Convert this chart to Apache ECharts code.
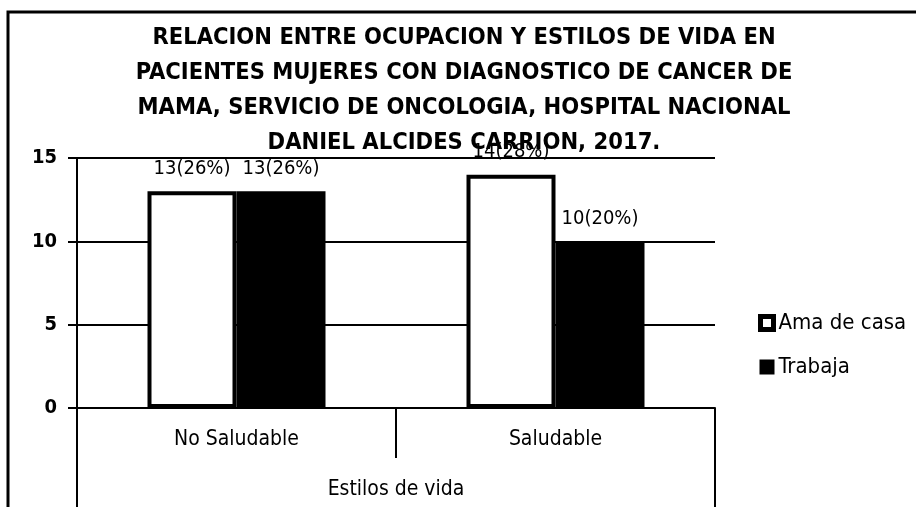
<!DOCTYPE html>
<html>
<head>
<meta charset="utf-8">
<script src="https://cdn.jsdelivr.net/npm/echarts@6/dist/echarts.min.js"></script>
<style>
html, body { margin: 0; padding: 0; background: #fff; }
#chart { width: 916px; height: 507px; }
</style>
</head>
<body>
<div id="chart"></div>
<script>
var FONT = '"Liberation Sans Narrow", "DejaVu Sans Condensed", "Liberation Sans", sans-serif';

// datos
var categorias = ['No Saludable', 'Saludable'];
var amaDeCasa = [13, 14];
var amaDeCasaPct = [26, 28];
var trabaja = [13, 10];
var trabajaPct = [26, 20];
var yTicks = [0, 5, 10, 15];

var chart = echarts.init(document.getElementById('chart'));

function etiqueta(pcts) {
    return function (p) {
        return p.value + '(' + pcts[p.dataIndex] + '%)';
    };
}

chart.setOption({
    backgroundColor: '#fff',
    animation: false,
    title: {
        text: 'RELACION ENTRE OCUPACION Y ESTILOS DE VIDA EN\nPACIENTES MUJERES CON DIAGNOSTICO DE CANCER DE\nMAMA, SERVICIO DE ONCOLOGIA, HOSPITAL NACIONAL\nDANIEL ALCIDES CARRION, 2017.',
        left: 459,
        top: 15,
        textAlign: 'center',
        textStyle: {
            fontFamily: FONT,
            fontWeight: 'bold',
            fontSize: 23.5,
            lineHeight: 35,
            color: '#000'
        }
    },
    legend: {
        orient: 'vertical',
        left: 753,
        top: 307,
        itemWidth: 13,
        itemHeight: 13,
        itemGap: 22,
        icon: 'rect',
        textStyle: { fontFamily: FONT, fontSize: 22, color: '#000' },
        data: [
            { name: 'Ama de casa', itemStyle: { color: '#fff', borderColor: '#000', borderWidth: 5 } },
            { name: 'Trabaja', itemStyle: { color: '#000' } }
        ]
    },
    grid: {
        left: 77,
        right: 201,
        top: 158,
        bottom: 99
    },
    xAxis: [{
        type: 'category',
        data: categorias,
        position: 'bottom',
        axisLine: { show: true, lineStyle: { color: '#000', width: 2 } },
        axisTick: { show: true, length: 50, lineStyle: { color: '#000', width: 2 } },
        axisLabel: { margin: 21, fontFamily: FONT, fontSize: 21, color: '#000' }
    }, {
        type: 'category',
        data: ['Estilos de vida'],
        position: 'bottom',
        offset: 0,
        axisLine: { show: false },
        axisTick: { show: true, length: 100, lineStyle: { color: '#000', width: 2 } },
        axisLabel: { margin: 71, fontFamily: FONT, fontSize: 21, color: '#000' }
    }],
    yAxis: {
        type: 'value',
        min: yTicks[0],
        max: yTicks[yTicks.length - 1],
        interval: 5,
        axisLine: { show: true, lineStyle: { color: '#000', width: 2 } },
        axisTick: { show: true, length: 9, lineStyle: { color: '#000', width: 2 } },
        axisLabel: { margin: 20, fontFamily: FONT, fontSize: 20, fontWeight: 'bold', color: '#000' },
        splitLine: { show: true, lineStyle: { color: '#000', width: 2 } }
    },
    series: [{
        name: 'Ama de casa',
        type: 'bar',
        xAxisIndex: 0,
        data: amaDeCasa,
        barWidth: 89,
        barGap: '0%',
        itemStyle: { color: '#fff', borderColor: '#000', borderWidth: 4 },
        label: {
            show: true,
            position: 'top',
            distance: 13,
            formatter: etiqueta(amaDeCasaPct),
            fontFamily: FONT,
            fontSize: 20,
            color: '#000'
        }
    }, {
        name: 'Trabaja',
        type: 'bar',
        xAxisIndex: 0,
        data: trabaja,
        barWidth: 89,
        barGap: '0%',
        itemStyle: { color: '#000', borderColor: '#000', borderWidth: 4 },
        label: {
            show: true,
            position: 'top',
            distance: 13,
            formatter: etiqueta(trabajaPct),
            fontFamily: FONT,
            fontSize: 20,
            color: '#000'
        }
    }],
    graphic: [{
        type: 'rect',
        shape: { x: 8, y: 12, width: 940, height: 520 },
        style: { fill: null, stroke: '#000', lineWidth: 3 },
        silent: true
    }]
});
</script>
</body>
</html>
